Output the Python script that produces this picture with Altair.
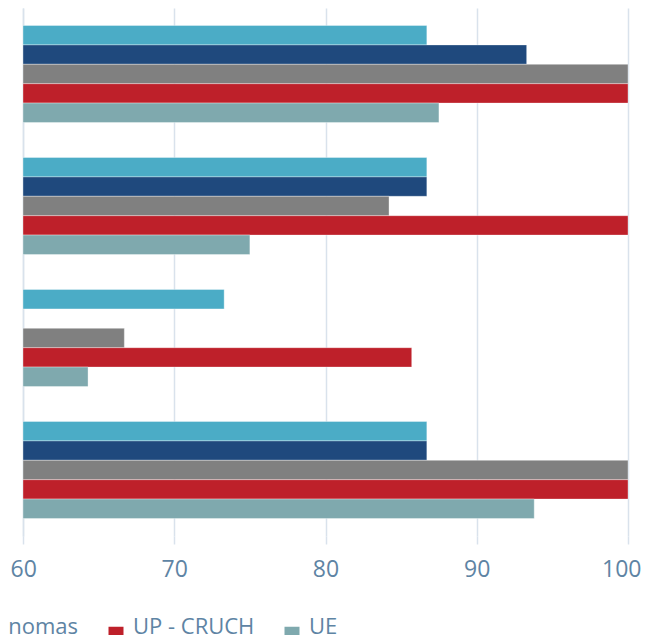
import altair as alt
import pandas as pd

groups = ["Grupo 1", "Grupo 2", "Grupo 3", "Grupo 4"]
series = ["Total", "UP", "UP - Autónomas", "UP - CRUCH", "UE"]
colors = ["#4BACC6", "#1F497D", "#808080", "#BE202A", "#7FA9AE"]

values = {
    "Total":          [86.7, 86.7, 73.3, 86.7],
    "UP":             [93.3, 86.7, None, 86.7],
    "UP - Autónomas": [100.0, 84.2, 66.7, 100.0],
    "UP - CRUCH":     [100.0, 100.0, 85.7, 100.0],
    "UE":             [87.5, 75.0, 64.3, 93.8],
}

x_ticks = [60, 70, 80, 90, 100]

rows = []
for s in series:
    for g, v in zip(groups, values[s]):
        if v is not None:
            rows.append({"grupo": g, "serie": s, "valor": v})
df = pd.DataFrame(rows)

grid_color = "#D9E2EC"
text_color = "#5E84A4"

chart = alt.Chart(df).mark_bar(
    stroke="white", strokeOpacity=0.35, strokeWidth=1
).encode(
    y=alt.Y("grupo:N", sort=groups,
            scale=alt.Scale(paddingInner=0.265, paddingOuter=0.1325),
            axis=alt.Axis(title=None, labels=False, ticks=False,
                          domain=True, domainColor=grid_color, domainWidth=1.5,
                          grid=False)),
    yOffset=alt.YOffset("serie:N", sort=series,
                        scale=alt.Scale(domain=series, paddingInner=0, paddingOuter=0)),
    x=alt.X("valor:Q",
            scale=alt.Scale(domain=[60, 100], zero=False, nice=False),
            axis=alt.Axis(title=None, values=x_ticks, grid=True,
                          gridColor=grid_color, gridWidth=1.5,
                          domain=False, ticks=True, tickSize=8,
                          tickColor=grid_color, tickWidth=1.5,
                          labelFlush=True, labelFlushOffset=13,
                          labelFont="Open Sans", labelFontSize=23,
                          labelColor=text_color, labelPadding=14)),
    x2=alt.datum(60),
    color=alt.Color("serie:N", sort=series,
                    scale=alt.Scale(domain=series, range=colors),
                    legend=alt.Legend(title=None, orient="none",
                                      direction="horizontal",
                                      legendX=-328, legendY=615,
                                      symbolType="square", symbolSize=225,
                                      symbolStrokeWidth=0,
                                      labelFont="Open Sans", labelFontSize=22,
                                      labelBaseline="alphabetic",
                                      labelColor=text_color, labelOffset=6,
                                      labelLimit=400, columnPadding=26)),
).properties(
    width=605, height=528,
    autosize=alt.AutoSizeParams(type="none"),
    padding={"left": 15, "top": 0, "right": 14, "bottom": 100},
).configure_view(stroke=None)

chart.save("out.html", embed_options={"renderer": "svg", "actions": False})
